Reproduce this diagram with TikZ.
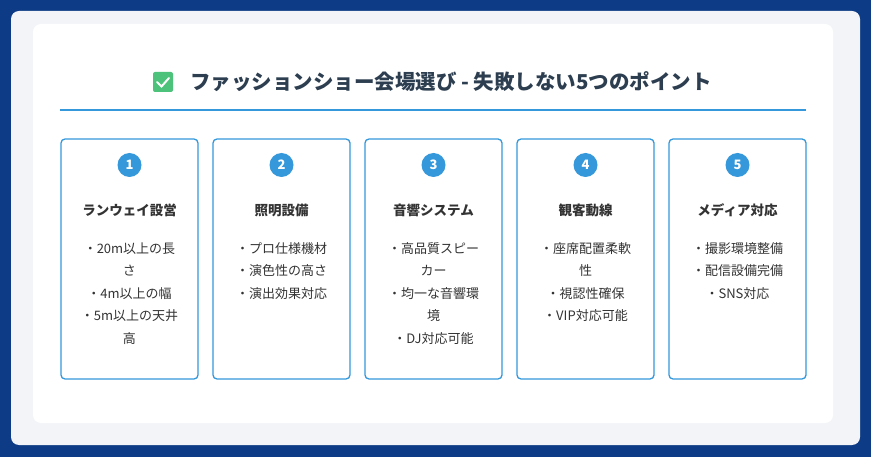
\documentclass[tikz,border=0pt]{standalone}
\usepackage{fontspec}
\setmainfont{Noto Sans CJK JP}
\usetikzlibrary{positioning}
\definecolor{navy}{HTML}{0D3B85}
\definecolor{accent}{HTML}{3498DB}
\definecolor{inkc}{HTML}{333333}
\definecolor{titlec}{HTML}{2C3E50}
\definecolor{cardc}{HTML}{F2F4F7}
\definecolor{checkc}{HTML}{4CC27A}
\tikzset{
  pointbox/.style={draw=accent,line width=1.3pt,rounded corners=4pt,minimum width=137pt,minimum height=240pt,fill=white},
  numdot/.style={circle,fill=accent,text=white,font=\fontsize{13}{13}\selectfont\bfseries,minimum size=24pt,inner sep=0pt},
  headtxt/.style={font=\fontsize{13.5}{15}\selectfont\bfseries,text=inkc},
  itemtxt/.style={font=\fontsize{13}{22.5}\selectfont,text=inkc,align=center,anchor=north}
}
\begin{document}
\begin{tikzpicture}[x=1pt,y=-1pt]
  \useasboundingbox (0,0) rectangle (871,457);
  \fill[navy] (0,0) rectangle (871,457);
  \fill[cardc,rounded corners=8pt] (11,11) rectangle (860,445);
  \fill[white,rounded corners=8pt] (33,24) rectangle (833,423);
  % title
  \node[font=\fontsize{20.5}{22}\selectfont\bfseries,text=titlec] (title) at (451,82) {ファッションショー会場選び - 失敗しない5つのポイント};
  \fill[checkc,rounded corners=2pt] (153,72) rectangle (173,92);
  \draw[white,line width=2pt,line cap=round] (157,82) -- (161.5,86.5) -- (169,78);
  \draw[accent,line width=1.5pt] (60,110) -- (806,110);
  % boxes
  \foreach \i/\head/\items in {
    1/ランウェイ設営/{・20m以上の長\\さ\\・4m以上の幅\\・5m以上の天井\\高},
    2/照明設備/{・プロ仕様機材\\・演色性の高さ\\・演出効果対応},
    3/音響システム/{・高品質スピー\\カー\\・均一な音響環\\境\\・DJ対応可能},
    4/観客動線/{・座席配置柔軟\\性\\・視認性確保\\・VIP対応可能},
    5/メディア対応/{・撮影環境整備\\・配信設備完備\\・SNS対応}} {
    \node[pointbox] (box\i) at ({129.5+152*(\i-1)},259) {};
    \node[numdot] (num\i) at ({129.5+152*(\i-1)},165) {\i};
    \node[headtxt] (head\i) at ({129.5+152*(\i-1)},210) {\head};
    \node[itemtxt] (list\i) at ({129.5+152*(\i-1)},239) {\items};
  }
\end{tikzpicture}
\end{document}
